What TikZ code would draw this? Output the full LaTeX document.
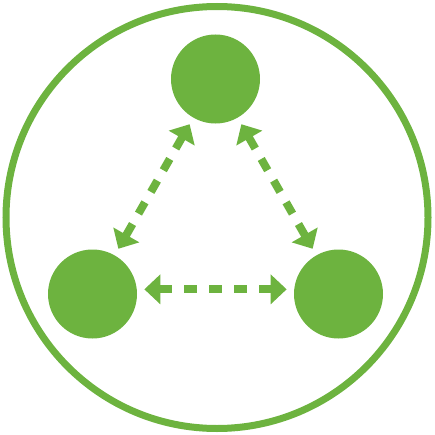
\documentclass[tikz,border=0pt]{standalone}
\usetikzlibrary{arrows.meta}
\definecolor{leafgreen}{RGB}{109,179,63}
\begin{document}
\begin{tikzpicture}[x=0.75pt,y=0.75pt,yscale=-1,xscale=1,
  dot/.style={circle,fill=leafgreen,draw=none,minimum size=66.75pt,inner sep=0pt},
  link/.style={draw=leafgreen,line width=6pt,dash pattern=on 9.75pt off 9pt,
    {Triangle[length=12pt,width=21.75pt,fill=leafgreen]}-{Triangle[length=12pt,width=21.75pt,fill=leafgreen]},
    shorten <=5.5pt,shorten >=5.5pt}]
\useasboundingbox (0,0) rectangle (435,435);

%Shape: Circle (outer ring)
\draw [color=leafgreen,line width=5.25pt] (217,217.5) circle (211);

%Shape: Circles
\node [dot] (top) at (215.5,79) {};
\node [dot] (left) at (92.5,294) {};
\node [dot] (right) at (338.5,294) {};

%Dashed Lines
\draw [link] (top) -- (left);
\draw [link] (top) -- (right);
\draw [link] (left.6) -- (right.174);

\end{tikzpicture}
\end{document}
